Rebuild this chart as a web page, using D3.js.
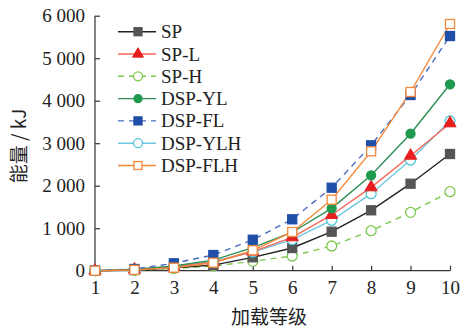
<!DOCTYPE html>
<html><head><meta charset="utf-8">
<script src="https://cdn.jsdelivr.net/npm/d3@7"></script>
<style>body{margin:0;background:#fff}svg{display:block}</style>
</head><body>
<svg id="c" width="462" height="329"></svg>
<script>
const levels = [1,2,3,4,5,6,7,8,9,10];
const yTicks = [0,1000,2000,3000,4000,5000,6000];
const seriesNames = ["SP","SP-L","SP-H","DSP-YL","DSP-FL","DSP-YLH","DSP-FLH"];
const SP      = [0, 15, 70, 130, 315, 534, 918, 1421, 2047, 2746];
const SP_L    = [0, 25, 95, 200, 450, 786, 1311, 1962, 2706, 3468];
const SP_H    = [0, 10, 50, 110, 221, 346, 581, 941, 1374, 1859];
const DSP_YL  = [0, 30, 110, 250, 541, 905, 1468, 2245, 3224, 4386];
const DSP_FL  = [0, 40, 174, 369, 729, 1209, 1953, 2950, 4134, 5522];
const DSP_YLH = [0, 35, 100, 220, 440, 729, 1186, 1812, 2605, 3522];
const DSP_FLH = [0, 20, 70, 188, 480, 911, 1671, 2809, 4205, 5805];

const styles = {
  "SP":      {line:"#222", fill:"#555", stroke:"#555", dash:null, marker:"square"},
  "SP-L":    {line:"#f7675a", fill:"#e81e1e", stroke:"#e81e1e", dash:null, marker:"triangle"},
  "SP-H":    {line:"#7cc84e", fill:"#fff", stroke:"#7cc84e", dash:"6,5", marker:"circle"},
  "DSP-YL":  {line:"#2e8f55", fill:"#1f9a50", stroke:"#1f9a50", dash:null, marker:"circle"},
  "DSP-FL":  {line:"#4a6cc0", fill:"#1f4fa8", stroke:"#1f4fa8", dash:"6,5", marker:"square"},
  "DSP-YLH": {line:"#6cc8dc", fill:"#fff", stroke:"#4ec4d8", dash:null, marker:"circle"},
  "DSP-FLH": {line:"#f5883a", fill:"#fff", stroke:"#f5883a", dash:null, marker:"square"}
};
const data = {"SP":SP,"SP-L":SP_L,"SP-H":SP_H,"DSP-YL":DSP_YL,"DSP-FL":DSP_FL,"DSP-YLH":DSP_YLH,"DSP-FLH":DSP_FLH};

const svg = d3.select("#c");
const x = d3.scaleLinear().domain([1,10]).range([95,450]);
const y = d3.scaleLinear().domain([0,6000]).range([270.7,15.7]);
const serif = "'Liberation Serif','Times New Roman',serif";
const fmt = v => v === 0 ? "0" : d3.format(",")(v).replace(/,/g," ");

const ya = svg.append("g").attr("transform","translate(95,0)")
  .call(d3.axisLeft(y).tickValues(yTicks).tickSize(-5).tickPadding(10).tickFormat(fmt));
const xa = svg.append("g").attr("transform","translate(0,270.7)")
  .call(d3.axisBottom(x).tickValues(levels).tickSize(-5).tickPadding(10).tickFormat(d3.format("d")));
[ya,xa].forEach(a=>{
  a.selectAll("path").attr("stroke","#333").attr("stroke-width",1.2);
  a.selectAll("line").attr("stroke","#333").attr("stroke-width",1.2);
  a.selectAll("text").attr("font-family",serif).attr("font-size",19).attr("fill","#222");
});
ya.select(".domain").attr("d","M0,270.7V15.7");
xa.select(".domain").attr("d","M95,0H450");

function drawMarker(g, type, cx, cy, st, s){
  if(type==="square"){
    g.append("rect").attr("x",cx-s).attr("y",cy-s).attr("width",2*s).attr("height",2*s)
      .attr("fill",st.fill).attr("stroke",st.stroke).attr("stroke-width",1.3);
  } else if(type==="triangle"){
    g.append("path").attr("d",d3.symbol(d3.symbolTriangle, s*s*3.2)())
      .attr("transform",`translate(${cx},${cy})`).attr("fill",st.fill).attr("stroke",st.stroke);
  } else {
    g.append("circle").attr("cx",cx).attr("cy",cy).attr("r",s)
      .attr("fill",st.fill).attr("stroke",st.stroke).attr("stroke-width",1.3);
  }
}
const line = d3.line().x((d,i)=>x(levels[i])).y(d=>y(d));
const order = ["SP-H","SP","DSP-YLH","SP-L","DSP-YL","DSP-FL","DSP-FLH"];
order.forEach(name=>{
  const st = styles[name], vals = data[name];
  svg.append("path").attr("d",line(vals)).attr("fill","none")
    .attr("stroke",st.line).attr("stroke-width",1.4).attr("stroke-dasharray",st.dash);
});
order.forEach(name=>{
  const st = styles[name], vals = data[name];
  const g = svg.append("g");
  const s = (st.fill==="#fff" && st.marker==="circle") ? 5 : 4.5;
  vals.forEach((v,i)=>drawMarker(g, st.marker, x(levels[i]), y(v), st, s));
});

// legend
const lg = svg.append("g");
seriesNames.forEach((name,i)=>{
  const st = styles[name];
  const cy = 31.7 + i*22.3;
  lg.append("line").attr("x1",118).attr("x2",156).attr("y1",cy).attr("y2",cy)
    .attr("stroke",st.line).attr("stroke-width",1.4).attr("stroke-dasharray",st.dash);
  drawMarker(lg, st.marker, 138, cy, st, st.marker==="circle" && st.fill==="#fff" ? 4.5 : 4);
  lg.append("text").attr("x",161).attr("y",cy+6.5).text(name)
    .attr("font-family",serif).attr("font-size",19).attr("fill","#222");
});

svg.append("text").attr("transform","translate(26,146) rotate(-90)").attr("text-anchor","middle")
  .attr("font-family","'Noto Sans CJK SC',"+serif).attr("font-size",19).attr("fill","#222").text("能量 / kJ");
svg.append("text").attr("x",269).attr("y",324).attr("text-anchor","middle")
  .attr("font-family","'Noto Sans CJK SC',"+serif).attr("font-size",19).attr("fill","#222").text("加载等级");
</script>
</body></html>
